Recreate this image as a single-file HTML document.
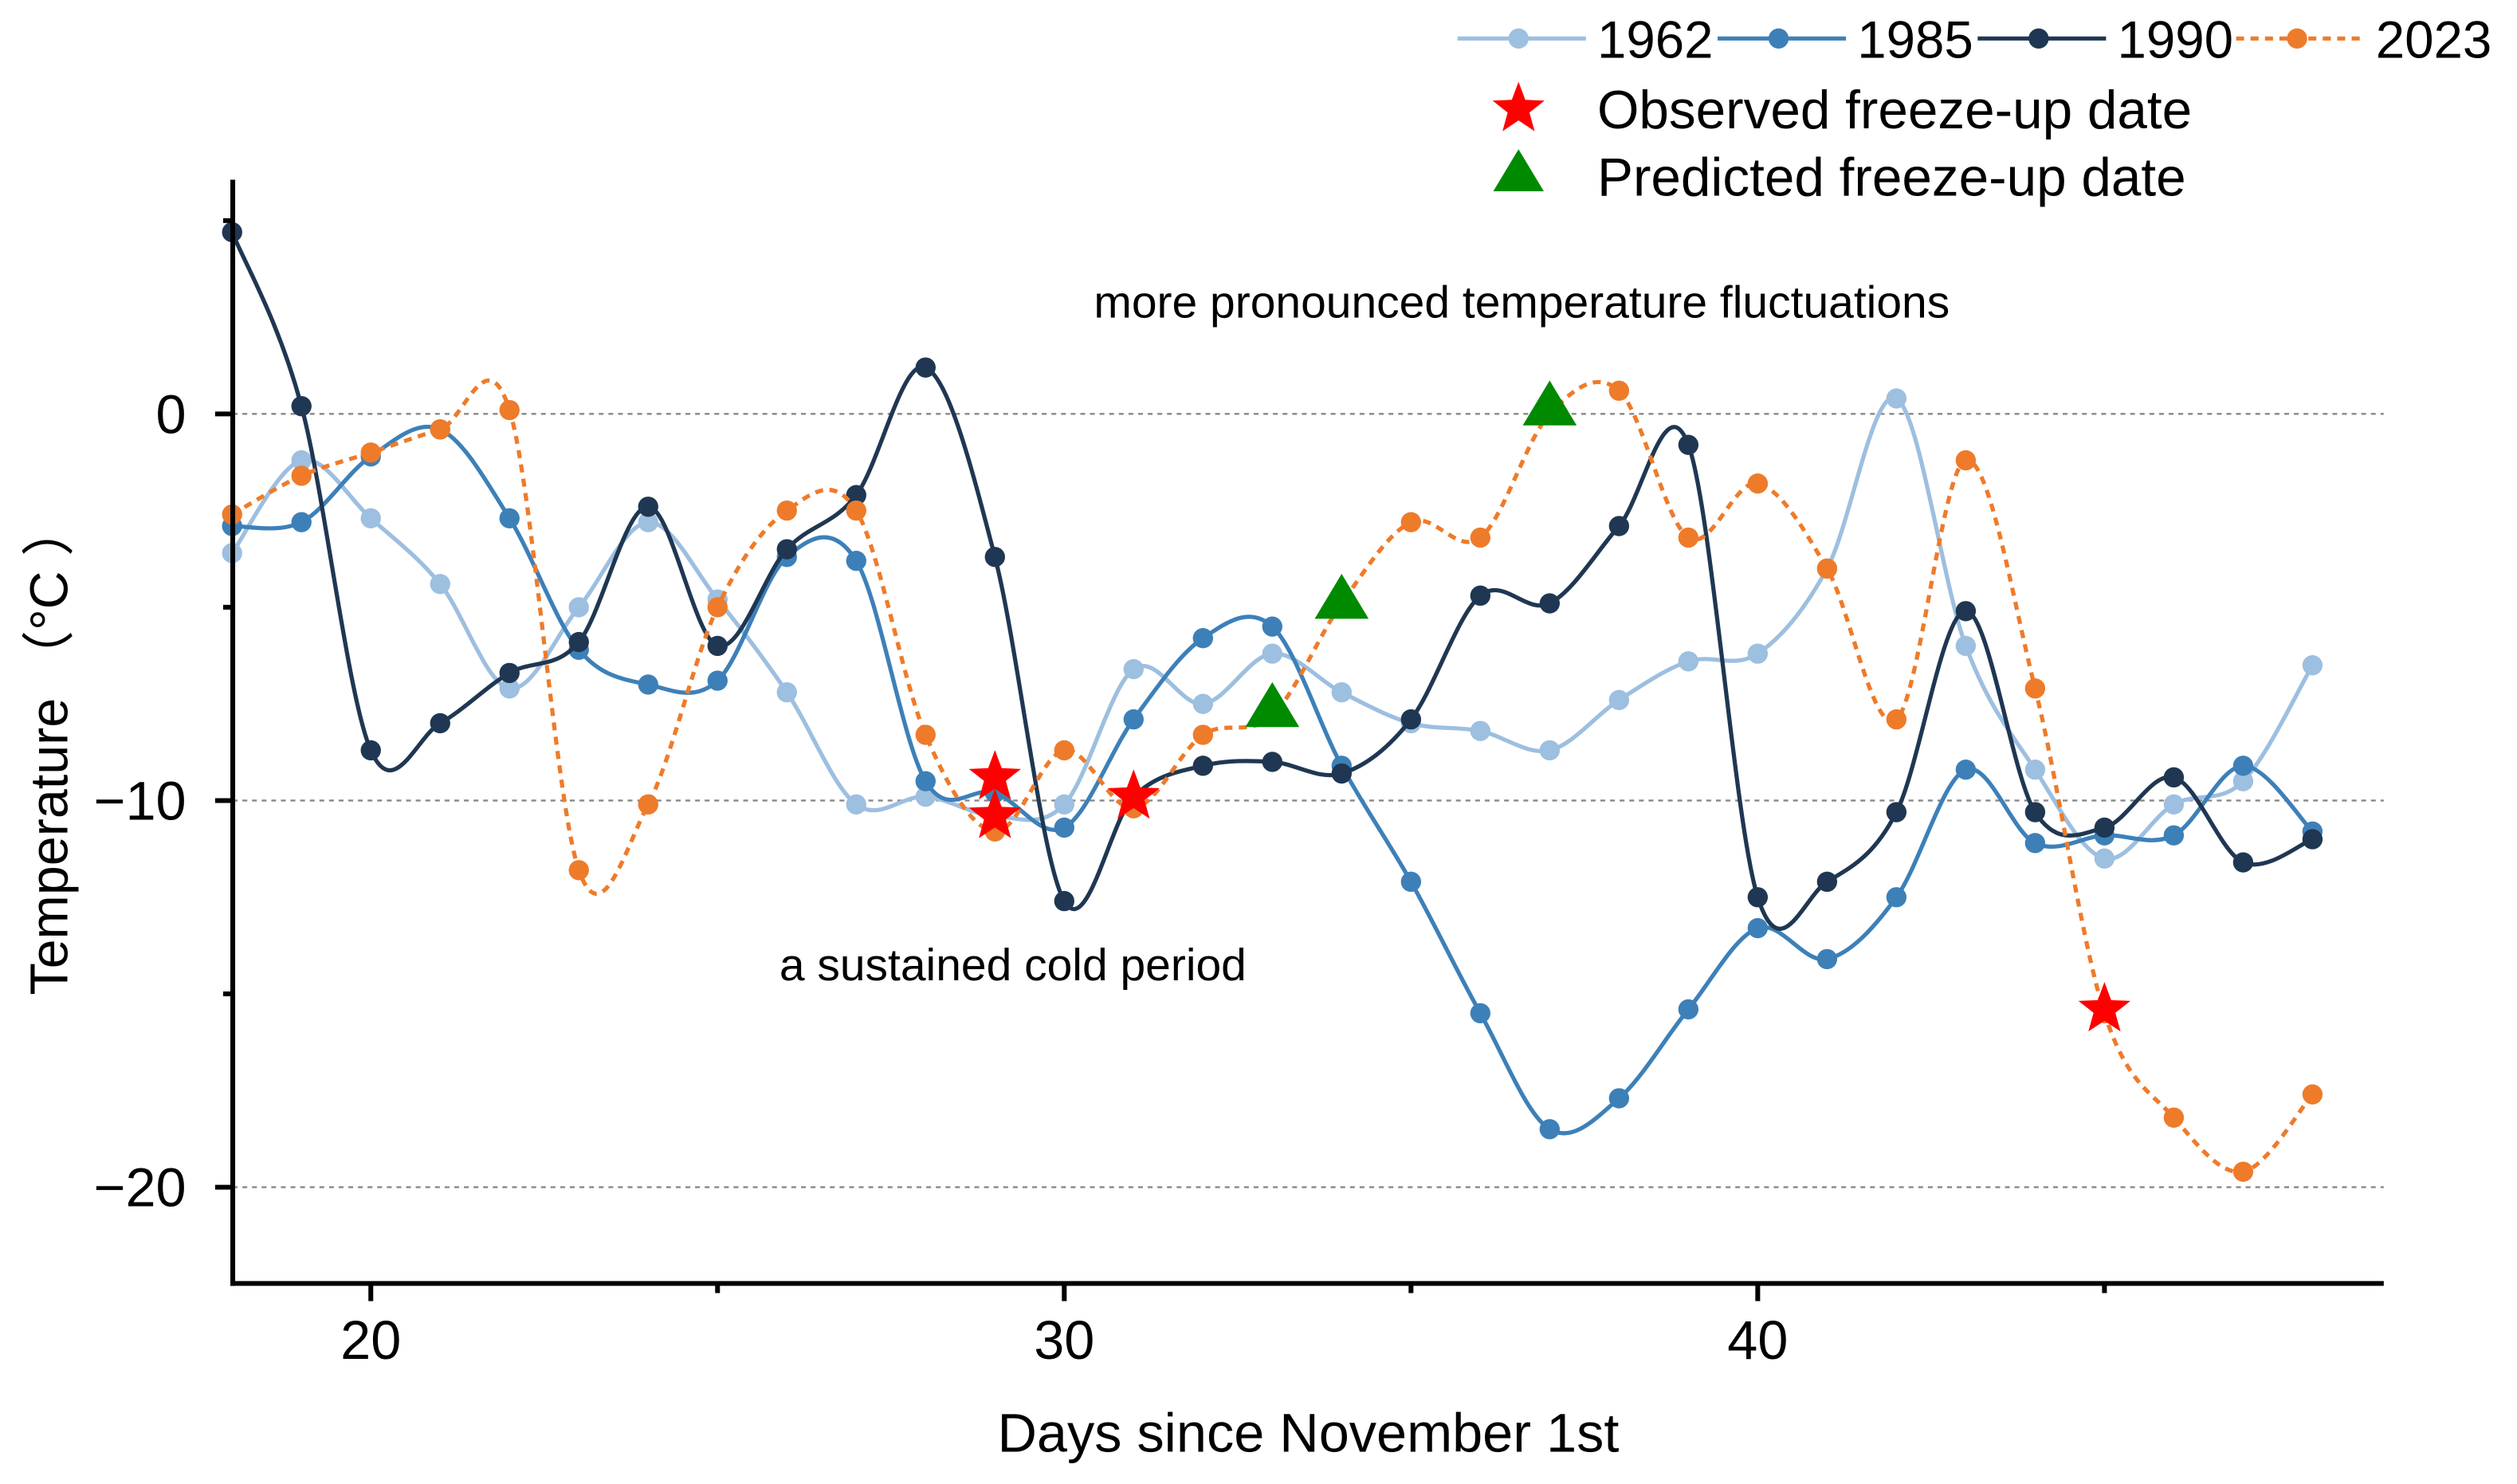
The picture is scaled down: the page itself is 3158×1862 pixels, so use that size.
<!DOCTYPE html>
<html><head><meta charset="utf-8"><style>
html,body{margin:0;padding:0;background:#fff;}
svg{display:block;font-family:"Liberation Sans",Arial,sans-serif;}
</style></head><body>
<svg id="chart" width="3158" height="1862" viewBox="0 0 1568 925" preserveAspectRatio="none" xmlns="http://www.w3.org/2000/svg">
<g id="grid"></g>
<g id="series"></g>
<g id="axes"></g>
<text x="948" y="198" font-size="28.3" text-anchor="middle">more pronounced temperature fluctuations</text>
<text x="631" y="611" font-size="28.3" text-anchor="middle">a sustained cold period</text>
<text x="815" y="905" font-size="34" text-anchor="middle">Days since November 1st</text>
<text transform="translate(42,467) rotate(-90)" font-size="33" text-anchor="middle">Temperature （°C ）</text>
<g id="legend"></g>
</svg>
<script>
const days = [18,19,20,21,22,23,24,25,26,27,28,29,30,31,32,33,34,35,36,37,38,39,40,41,42,43,44,45,46,47,48];
const t1962 = [-3.6,-1.2,-2.7,-4.4,-7.1,-5.0,-2.8,-4.8,-7.2,-10.1,-9.9,-10.4,-10.1,-6.6,-7.5,-6.2,-7.2,-8.0,-8.2,-8.7,-7.4,-6.4,-6.2,-4.0,0.4,-6.0,-9.2,-11.5,-10.1,-9.5,-6.5];
const t1985 = [-2.9,-2.8,-1.1,-0.4,-2.7,-6.1,-7.0,-6.9,-3.7,-3.8,-9.5,-9.8,-10.7,-7.9,-5.8,-5.5,-9.1,-12.1,-15.5,-18.5,-17.7,-15.4,-13.3,-14.1,-12.5,-9.2,-11.1,-10.9,-10.9,-9.1,-10.8];
const t1990 = [4.7,0.2,-8.7,-8.0,-6.7,-5.9,-2.4,-6.0,-3.5,-2.1,1.2,-3.7,-12.6,-9.9,-9.1,-9.0,-9.3,-7.9,-4.7,-4.9,-2.9,-0.8,-12.5,-12.1,-10.3,-5.1,-10.3,-10.7,-9.4,-11.6,-11.0];
const t2023 = [-2.6,-1.6,-1.0,-0.4,0.1,-11.8,-10.1,-5.0,-2.5,-2.5,-8.3,-10.8,-8.7,-10.2,-8.3,-7.8,-4.9,-2.8,-3.2,0.0,0.6,-3.2,-1.8,-4.0,-7.9,-1.2,-7.1,-15.5,-18.2,-19.6,-17.6];
const observedDays = [29,29,31,45];
const observedTemps = [-9.4,-10.4,-9.9,-15.4];
const predictedDays = [33,34,37];
const predictedTemps = [-7.6,-4.8,0.2];
const xTicks = [20,30,40];
const xMinor = [25,35,45];
const yTicks = [0,-10,-20];
const yMinor = [5,-5,-15];
const yTickLabels = ["0","\u221210","\u221220"];

const NS="http://www.w3.org/2000/svg";
const X0=145,X1=1485,Y0=112,Y1=800;
function xs(d){return 231+(d-20)*43.2;}
function ys(v){return 258-v*24.1;}
function mk(tag,attrs,parent){const e=document.createElementNS(NS,tag);for(const k in attrs)e.setAttribute(k,attrs[k]);parent.appendChild(e);return e;}
const grid=document.getElementById('grid'),series=document.getElementById('series'),axes=document.getElementById('axes'),legend=document.getElementById('legend');

yTicks.forEach(v=>{
  const l=mk('line',{x1:X0,x2:X1,y1:ys(v),y2:ys(v),stroke:'#888','stroke-width':1.2,'stroke-dasharray':'3,3'},grid);
  
  
});

function smoothPath(px,py){
  let d=`M${px[0]},${py[0]}`;
  for(let i=0;i<px.length-1;i++){
    const x0=px[Math.max(i-1,0)],y0=py[Math.max(i-1,0)],x1=px[i],y1=py[i],x2=px[i+1],y2=py[i+1],x3=px[Math.min(i+2,px.length-1)],y3=py[Math.min(i+2,px.length-1)];
    const c1x=x1+(x2-x0)/6,c1y=y1+(y2-y0)/6,c2x=x2-(x3-x1)/6,c2y=y2-(y3-y1)/6;
    d+=` C${c1x},${c1y} ${c2x},${c2y} ${x2},${y2}`;
  }
  return d;
}
const defs=[
 {name:'1962',vals:t1962,color:'#9dbfe0',dash:null},
 {name:'1985',vals:t1985,color:'#3d80b8',dash:null},
 {name:'1990',vals:t1990,color:'#1f3752',dash:null},
 {name:'2023',vals:t2023,color:'#ee7b2a',dash:'5,4'}
];
defs.forEach(s=>{
  const g=mk('g',{},series);
  
  
  const px=days.map(xs),py=s.vals.map(ys);
  const p=mk('path',{d:smoothPath(px,py),fill:'none',stroke:s.color,'stroke-width':2.6},g);
  if(s.dash)p.setAttribute('stroke-dasharray',s.dash);
  
  
  days.forEach((d,i)=>{
    const c=mk('circle',{cx:xs(d),cy:ys(s.vals[i]),r:6.3,fill:s.color},g);
    
    
  });
});
function starPts(cx,cy,R){const r=R*0.42;let pts=[];for(let i=0;i<10;i++){const a=-Math.PI/2+i*Math.PI/5;const rr=i%2?r:R;pts.push((cx+rr*Math.cos(a)).toFixed(1)+','+(cy+rr*Math.sin(a)).toFixed(1));}return pts.join(' ');}
function triPts(cx,cy,s){return `${cx},${cy-s} ${cx-s*1.05},${cy+s*0.75} ${cx+s*1.05},${cy+s*0.75}`;}
observedDays.forEach((d,i)=>{
  const st=mk('polygon',{points:starPts(xs(d),ys(observedTemps[i]),17),fill:'#ff0000'},series);
  
  
});
predictedDays.forEach((d,i)=>{
  const tr=mk('polygon',{points:triPts(xs(d),ys(predictedTemps[i]),16),fill:'#008a00'},series);
  
  
});

const ya=mk('line',{x1:X0,x2:X0,y1:Y0,y2:Y1+1.5,stroke:'#000','stroke-width':3},axes);


const xa=mk('line',{x1:X0-1.5,x2:X1,y1:Y1,y2:Y1,stroke:'#000','stroke-width':3},axes);


xTicks.forEach(d=>{
  const t=mk('line',{x1:xs(d),x2:xs(d),y1:Y1,y2:Y1+11,stroke:'#000','stroke-width':3},axes);
  
  
  const lb=mk('text',{x:xs(d),y:Y1+47,'font-size':34,'text-anchor':'middle'},axes);
  lb.textContent=d;
  
  
});
xMinor.forEach(d=>{
  const t=mk('line',{x1:xs(d),x2:xs(d),y1:Y1,y2:Y1+6,stroke:'#000','stroke-width':3},axes);
  
  
});
yTicks.forEach((v,i)=>{
  const t=mk('line',{x1:X0-11,x2:X0,y1:ys(v),y2:ys(v),stroke:'#000','stroke-width':3},axes);
  
  
  const lb=mk('text',{x:X0-29,y:ys(v)+12,'font-size':34,'text-anchor':'end'},axes);
  lb.textContent=yTickLabels[i];
  
  
});
yMinor.forEach(v=>{
  const t=mk('line',{x1:X0-6,x2:X0,y1:ys(v),y2:ys(v),stroke:'#000','stroke-width':3},axes);
  
  
});

const lx=[908,1070,1232,1393];
defs.forEach((s,i)=>{
  const g=mk('g',{},legend);
  
  
  const l=mk('line',{x1:lx[i],x2:lx[i]+80,y1:24,y2:24,stroke:s.color,'stroke-width':2.6},g);
  if(s.dash)l.setAttribute('stroke-dasharray',s.dash);
  mk('circle',{cx:lx[i]+38,cy:24,r:6.3,fill:s.color},g);
  const tx=mk('text',{x:lx[i]+87,y:36,'font-size':32.5},g);
  tx.textContent=s.name;
});
const ls=mk('g',{},legend);


mk('polygon',{points:starPts(946,68,17),fill:'#ff0000'},ls);
mk('text',{x:995,y:80,'font-size':33.5},ls).textContent='Observed freeze-up date';
const lt=mk('g',{},legend);


mk('polygon',{points:triPts(946,108,15),fill:'#008a00'},lt);
mk('text',{x:995,y:122,'font-size':33.5},lt).textContent='Predicted freeze-up date';
</script>
</body></html>
